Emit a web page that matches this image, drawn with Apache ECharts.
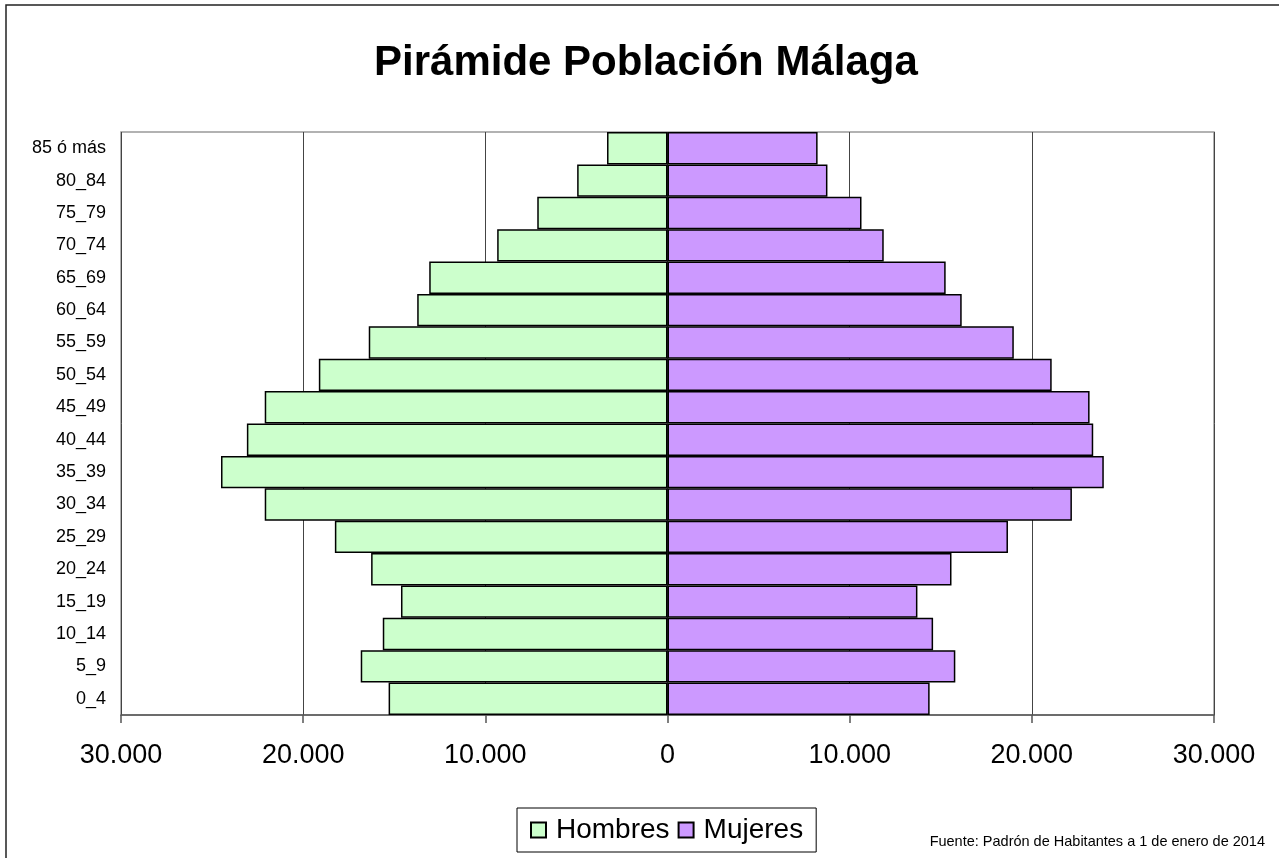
<!DOCTYPE html>
<html>
<head>
<meta charset="utf-8">
<script src="https://cdn.jsdelivr.net/npm/echarts@6/dist/echarts.min.js"></script>
<style>html,body{margin:0;padding:0;background:#fff;}#c{width:1279px;height:858px;}</style>
</head>
<body>
<div id="c"></div>
<script>
const categories = ['0_4','5_9','10_14','15_19','20_24','25_29','30_34','35_39','40_44','45_49','50_54','55_59','60_64','65_69','70_74','75_79','80_84','85 ó más'];
const hombres = [15310,16840,15630,14630,16270,18260,22110,24510,23090,22110,19140,16400,13740,13080,9350,7150,4960,3320];
const mujeres = [14390,15800,14580,13720,15590,18690,22200,23950,23370,23170,21090,19010,16150,15270,11870,10650,8780,8240];
const xTicks = [-30000,-20000,-10000,0,10000,20000,30000];

function fmt(v){
  const a = Math.abs(v);
  return a.toString().replace(/\B(?=(\d{3})+(?!\d))/g, '.');
}

const chart = echarts.init(document.getElementById('c'), null, {renderer:'canvas'});
chart.setOption({
  backgroundColor:'#fff',
  animation:false,
  title:{
    text:'Pirámide Población Málaga',
    left:369, top:37,
    textStyle:{fontFamily:'Liberation Sans, Arial, sans-serif', fontWeight:'bold', fontSize:42, color:'#000'}
  },
  legend:{
    left:517, top:808,
    itemWidth:15, itemHeight:15, itemGap:8,
    padding:[8,13,8,13],
    borderColor:'#000', borderWidth:1,
    icon:'rect',
    textStyle:{fontFamily:'Liberation Sans, Arial, sans-serif', fontSize:28, color:'#000', padding:[0,0,0,5]},
    data:['Hombres','Mujeres']
  },
  grid:{
    left:121, right:65, top:132, bottom:143,
    show:true, borderColor:'#999', borderWidth:1.5, backgroundColor:'#fff'
  },
  xAxis:{
    type:'value', min:xTicks[0], max:xTicks[xTicks.length-1], interval:10000,
    axisLine:{show:true, lineStyle:{color:'#555', width:1.5}},
    axisTick:{show:true, length:8, lineStyle:{color:'#555', width:1.5}},
    axisLabel:{formatter:fmt, fontFamily:'Liberation Sans, Arial, sans-serif', fontSize:27, color:'#000', margin:27},
    splitLine:{show:true, lineStyle:{color:'#444', width:1}}
  },
  yAxis:{
    type:'category', data:categories,
    axisLine:{show:false}, axisTick:{show:false},
    axisLabel:{fontFamily:'Liberation Sans, Arial, sans-serif', fontSize:18, color:'#000', margin:15}
  },
  series:[
    {
      name:'Hombres', type:'bar',
      data:hombres.map(v=>-v),
      barCategoryGap:'0%', barGap:'-100%',
      itemStyle:{color:'#ccffcc', borderColor:'#000', borderWidth:1.5}
    },
    {
      name:'Mujeres', type:'bar',
      data:mujeres,
      barCategoryGap:'0%', barGap:'-100%',
      itemStyle:{color:'#cc99ff', borderColor:'#000', borderWidth:1.5}
    }
  ],
  graphic:[
    {type:'rect', shape:{x:6, y:5, width:1300, height:900}, style:{fill:'none', stroke:'#222', lineWidth:1.5}, silent:true},
    {type:'text', right:14, top:834, style:{text:'Fuente: Padrón de Habitantes a 1 de enero de 2014', font:'14.5px "Liberation Sans", Arial, sans-serif', fill:'#000'}}
  ]
});
</script>
</body>
</html>
